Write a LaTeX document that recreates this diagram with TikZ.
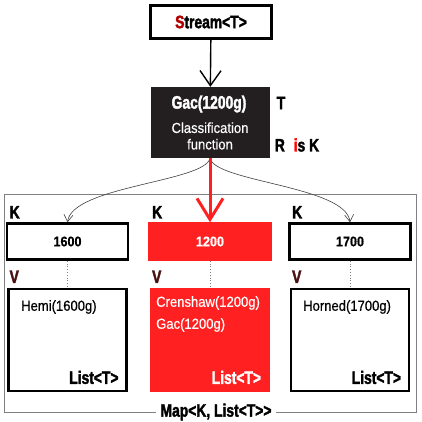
\documentclass[tikz,border=0pt]{standalone}
\usepackage{fontspec}
\setmainfont{Liberation Sans}
\newfontfamily\impactfont[FakeStretch=0.77, BoldFeatures={FakeBold=2}]{Liberation Sans}
\newfontfamily\narrowfont[FakeStretch=0.9, FakeBold=0.5]{Liberation Sans}
\usetikzlibrary{arrows.meta}
\definecolor{mapred}{HTML}{FF2121}
\definecolor{boxblack}{HTML}{231F20}
\definecolor{vred}{HTML}{4A0F0F}
\tikzset{
    keybox/.style={draw=black, line width=2.5pt, minimum width=121pt, minimum height=36pt, inner sep=0pt, font=\narrowfont\bfseries\fontsize{14}{16}\selectfont},
    valbox/.style={draw=black, line width=2.5pt, minimum width=118pt, minimum height=102pt, inner sep=0pt},
    plainbox/.style={fill=white},
    hotbox/.style={fill=mapred, draw=mapred, text=white},
    bigtag/.style={font=\impactfont\bfseries\fontsize{18}{20}\selectfont, inner sep=0pt},
    entry/.style={font=\narrowfont\fontsize{14.5}{16}\selectfont, inner sep=0pt, anchor=west},
    thinarrow/.style={black!75, line width=0.6pt, -{Straight Barb[length=7pt, width=9pt]}},
    redarrow/.style={mapred, line width=3pt, -{Straight Barb[length=21pt, width=26pt, line width=3pt]}},
}
\begin{document}
\begin{tikzpicture}[x=1pt, y=-1pt]
        \useasboundingbox (0,0) rectangle (421,422);

        % MAP
        \draw[gray, line width=0.8pt] (4,194) rectangle (416,412);
        \node[bigtag, fill=white, inner xsep=5pt] (map) at (216,412) {Map<K, List<T>>};

        % STREAM AND FUNCTION
        \node[bigtag, draw, line width=2.2pt, minimum width=121pt, minimum height=33pt] (stream) at (211,22) {\textcolor{red!70!black}{S}tream<T>};
        \node[fill=boxblack, minimum width=119pt, minimum height=71pt] (gac) at (210,122.5) {};
        \node[bigtag, white] (gacname) at (209,104) {Gac(1200g)};
        \node[white, align=center, inner sep=0pt, font=\narrowfont\fontsize{14.5}{16.5}\selectfont] (gacfun) at (210,136) {Classification\\function};
        \node[bigtag] (tlabel) at (281,103) {T};
        \node[bigtag] (rlabel) at (297,145) {R\; \textcolor{red}{i}s K};

        \draw[line width=1.4pt, -{Straight Barb[length=15pt, width=21pt, line width=1.4pt]}] (stream) -- (gac);

        % KEYS AND VALUES
        \foreach \n/\x/\k/\s in {1/67.5/1600/plainbox, 2/210/1200/hotbox, 3/350/1700/plainbox} {
            \node[keybox, \s] (k\n) at (\x,241.5) {\k};
            \node[valbox, \s] (v\n) at (\x,340) {};
            \draw[dotted, gray, line width=0.8pt] (k\n) -- (v\n);
            \node[bigtag] (klab\n) at ([shift={(9,-10)}]k\n.north west) {K};
            \node[bigtag, text=vred] (vlab\n) at ([shift={(7,-11)}]v\n.north west) {V};
            \node[bigtag, \s, fill=none, anchor=south east] (list\n) at ([shift={(-9,-8)}]v\n.south east) {List<T>};
        }

        % ENTRIES
        \node[entry] (hemi) at (21,307) {Hemi(1600g)};
        \node[entry, white] (crenshaw) at (156,303) {Crenshaw(1200g)};
        \node[entry, white] (gacitem) at (156,325) {Gac(1200g)};
        \node[entry] (horned) at (303,307) {Horned(1700g)};

        % CLASSIFY
        \draw[thinarrow] (gac.south) .. controls (205,182) and (72,186) .. (k1.north);
        \draw[thinarrow] (gac.south) .. controls (215,182) and (346,186) .. (k3.north);
        \draw[redarrow] (gac.south) -- (k2.north);
\end{tikzpicture}
\end{document}
